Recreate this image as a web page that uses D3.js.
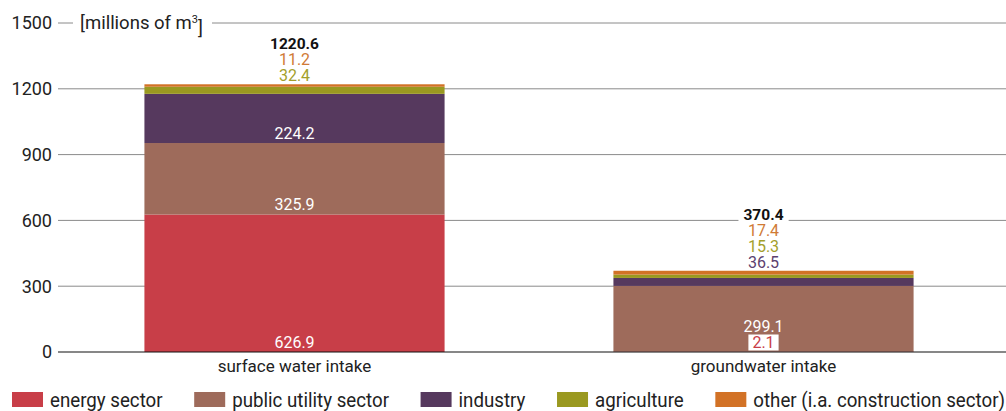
<!DOCTYPE html>
<html>
<head>
<meta charset="utf-8">
<script src="https://cdn.jsdelivr.net/npm/d3@7/dist/d3.min.js"></script>
<style>
  body { margin: 0; background: #fff; }
  text { font-family: Roboto, "Noto Sans", sans-serif; }
</style>
</head>
<body>
<script>
"use strict";
const categories = ["surface water intake", "groundwater intake"];
const sectors = ["energy sector", "public utility sector", "industry", "agriculture", "other (i.a. construction sector)"];
const energy = [626.9, 2.1];
const publicUtility = [325.9, 299.1];
const industry = [224.2, 36.5];
const agriculture = [32.4, 15.3];
const other = [11.2, 17.4];
const totals = [1220.6, 370.4];
const yTicks = [0, 300, 600, 900, 1200, 1500];

const colors = ["#c83e48", "#9e6b5b", "#56395e", "#9a9920", "#d27226"];
const labelColors = ["#c83e48", "#ffffff", "#5c4170", "#a39f2c", "#d07a35"];

const W = 1006, H = 411;
const mLeft = 58, mRight = 1006, mTop = 23, mBottom = 352;

const rows = categories.map((c, i) => ({
  cat: c, "energy sector": energy[i], "public utility sector": publicUtility[i],
  "industry": industry[i], "agriculture": agriculture[i],
  "other (i.a. construction sector)": other[i], total: totals[i]
}));

const svg = d3.select("body").append("svg").attr("width", W).attr("height", H);

const x = d3.scaleBand().domain(categories).range([mLeft + 2, 998]).paddingInner(0.36).paddingOuter(0.18);
const y = d3.scaleLinear().domain([0, 1500]).range([mBottom, mTop]);

// grid
const grid = svg.append("g").attr("stroke", "#8a8a8a");
yTicks.filter(t => t > 0).forEach(t => {
  if (t === 1500) {
    grid.append("line").attr("x1", mLeft).attr("x2", mLeft + 15).attr("y1", y(t)).attr("y2", y(t));
    grid.append("line").attr("x1", 212).attr("x2", mRight).attr("y1", y(t)).attr("y2", y(t));
  } else {
    grid.append("line").attr("x1", mLeft).attr("x2", mRight).attr("y1", y(t)).attr("y2", y(t));
  }
});
yTicks.forEach(t => {
  svg.append("text").attr("x", 52).attr("y", y(t)).attr("dy", "0.35em").attr("text-anchor", "end")
    .attr("font-size", 18).attr("fill", "#222").text(t);
});
const unit = svg.append("text").attr("x", 80).attr("y", y(1500)).attr("dy", "0.35em").attr("font-size", 18.5).attr("fill", "#222");
unit.append("tspan").text("[millions of m");
unit.append("tspan").attr("font-size", 11).attr("dy", "-0.55em").text("3");
unit.append("tspan").attr("dy", "0.55em").text("]");

// bars
const series = d3.stack().keys(sectors)(rows);
series.forEach((s, k) => {
  svg.append("g").attr("fill", colors[k]).selectAll("rect").data(s).join("rect")
    .attr("x", d => x(d.data.cat)).attr("width", x.bandwidth())
    .attr("y", d => y(d[1])).attr("height", d => y(d[0]) - y(d[1]));
});

// baseline
svg.append("line").attr("x1", mLeft).attr("x2", mRight).attr("y1", mBottom).attr("y2", mBottom)
  .attr("stroke", "#111").attr("stroke-width", 1.2);

function boxed(t, padX) {
  const bb = t.node().getBBox();
  svg.insert("rect", () => t.node()).attr("x", bb.x - padX).attr("y", bb.y + 2)
    .attr("width", bb.width + 2 * padX).attr("height", bb.height - 3).attr("fill", "#fff");
}

// value labels
const step = 16;
rows.forEach((r, i) => {
  const cx = x(r.cat) + x.bandwidth() / 2;
  const tiny = sectors.map(k => y(0) - y(r[k]) < 20);
  let bottomShift = 0;
  sectors.forEach((k, j) => {
    const s = series[j][i];
    if (j === 0 && tiny[0]) {
      const t = svg.append("text").attr("x", cx).attr("y", y(0) - 4.5).attr("text-anchor", "middle")
        .attr("font-size", 16).attr("fill", colors[0]).text(r[k]);
      boxed(t, 4);
      bottomShift = step;
    } else if (!tiny[j]) {
      svg.append("text").attr("x", cx).attr("y", y(s[0]) - 4 - (j === 1 ? bottomShift : 0)).attr("text-anchor", "middle")
        .attr("font-size", 16).attr("fill", "#fff").text(r[k]);
    }
  });
  const topY = y(r.total);
  const ups = sectors.map((k, j) => j).filter(j => j > 0 && tiny[j]);
  ups.forEach((j, n) => {
    svg.append("text").attr("x", cx).attr("y", topY - 3 - n * step).attr("text-anchor", "middle")
      .attr("font-size", 16).attr("fill", labelColors[j]).text(r[sectors[j]]);
  });
  const tt = svg.append("text").attr("x", cx).attr("y", topY - 3 - ups.length * step).attr("text-anchor", "middle")
    .attr("font-size", 15.5).attr("font-weight", "bold").attr("fill", "#111").text(r.total.toFixed(1));
  boxed(tt, 5);
});

// category labels
categories.forEach(c => {
  svg.append("text").attr("x", x(c) + x.bandwidth() / 2).attr("y", 372).attr("text-anchor", "middle")
    .attr("font-size", 17).attr("fill", "#222").text(c);
});

// legend
const lg = svg.append("g");
const squeeze = 0.935;
const items = [];
sectors.forEach((s, j) => {
  const g = lg.append("g");
  g.append("rect").attr("x", 0).attr("y", 392).attr("width", 31).attr("height", 15).attr("fill", colors[j]);
  const t = g.append("text").attr("transform", `translate(38,406.5) scale(${squeeze},1)`)
    .attr("font-size", 20).attr("fill", "#222").text(s);
  items.push({ g, w: 38 + squeeze * t.node().getComputedTextLength() });
});
const gap = (1005 - 12 - d3.sum(items, d => d.w)) / (items.length - 1);
let lx = 12;
items.forEach(it => { it.g.attr("transform", `translate(${lx},0)`); lx += it.w + gap; });
</script>
</body>
</html>
